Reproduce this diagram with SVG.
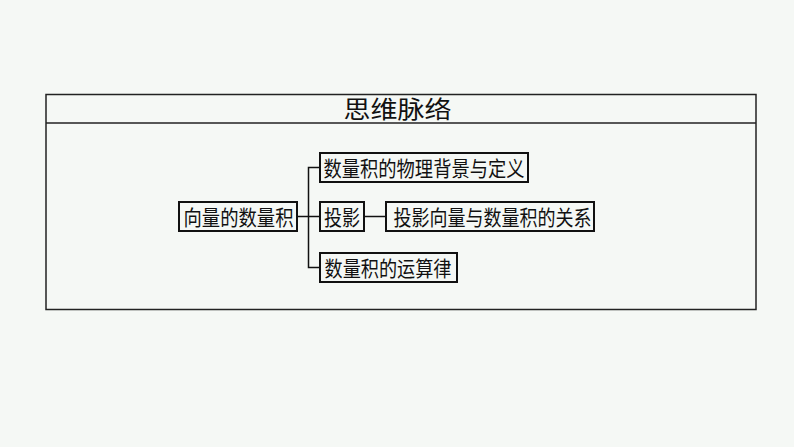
<svg xmlns="http://www.w3.org/2000/svg" width="794" height="447" viewBox="0 0 794 447">
<style>
.bg{fill:#f5f8f5}
.frame{fill:none;stroke:#222;stroke-width:1.5}
.box{fill:none;stroke:#111;stroke-width:2}
.ln{fill:none;stroke:#111;stroke-width:1.5}
text{font-family:"Noto Sans CJK SC","Noto Sans",sans-serif;fill:#111;font-size:21px}
.title{font-size:24px}
</style>
<rect class="bg" x="0" y="0" width="794" height="447"/>
<g id="frame">
<rect class="frame" x="46" y="94.5" width="710" height="215"/>
<line class="frame" x1="46" y1="123" x2="756" y2="123"/>
<text class="title" x="343.5" y="118" textLength="108" lengthAdjust="spacingAndGlyphs">思维脉络</text>
</g>
<g id="connectors">
<polyline class="ln" points="297,216.5 308.5,216.5"/>
<polyline class="ln" points="320,167.5 308.5,167.5 308.5,267.5 320,267.5"/>
<polyline class="ln" points="308.5,216.5 320,216.5"/>
<polyline class="ln" points="364,216.5 386,216.5"/>
</g>
<g id="root">
<rect class="box" x="179" y="202" width="118" height="29"/>
<text x="183.5" y="224.5" textLength="110" lengthAdjust="spacingAndGlyphs">向量的数量积</text>
</g>
<g id="n1">
<rect class="box" x="320" y="153" width="208" height="29"/>
<text x="323.5" y="175.5" textLength="201" lengthAdjust="spacingAndGlyphs">数量积的物理背景与定义</text>
</g>
<g id="n2">
<rect class="box" x="320" y="202" width="44" height="29"/>
<text x="324" y="224.5" textLength="36" lengthAdjust="spacingAndGlyphs">投影</text>
</g>
<g id="n3">
<rect class="box" x="386" y="202" width="208" height="29"/>
<text x="393.5" y="224.5" textLength="198" lengthAdjust="spacingAndGlyphs">投影向量与数量积的关系</text>
</g>
<g id="n4">
<rect class="box" x="320" y="253" width="137" height="29"/>
<text x="324.5" y="275.5" textLength="127" lengthAdjust="spacingAndGlyphs">数量积的运算律</text>
</g>
</svg>
